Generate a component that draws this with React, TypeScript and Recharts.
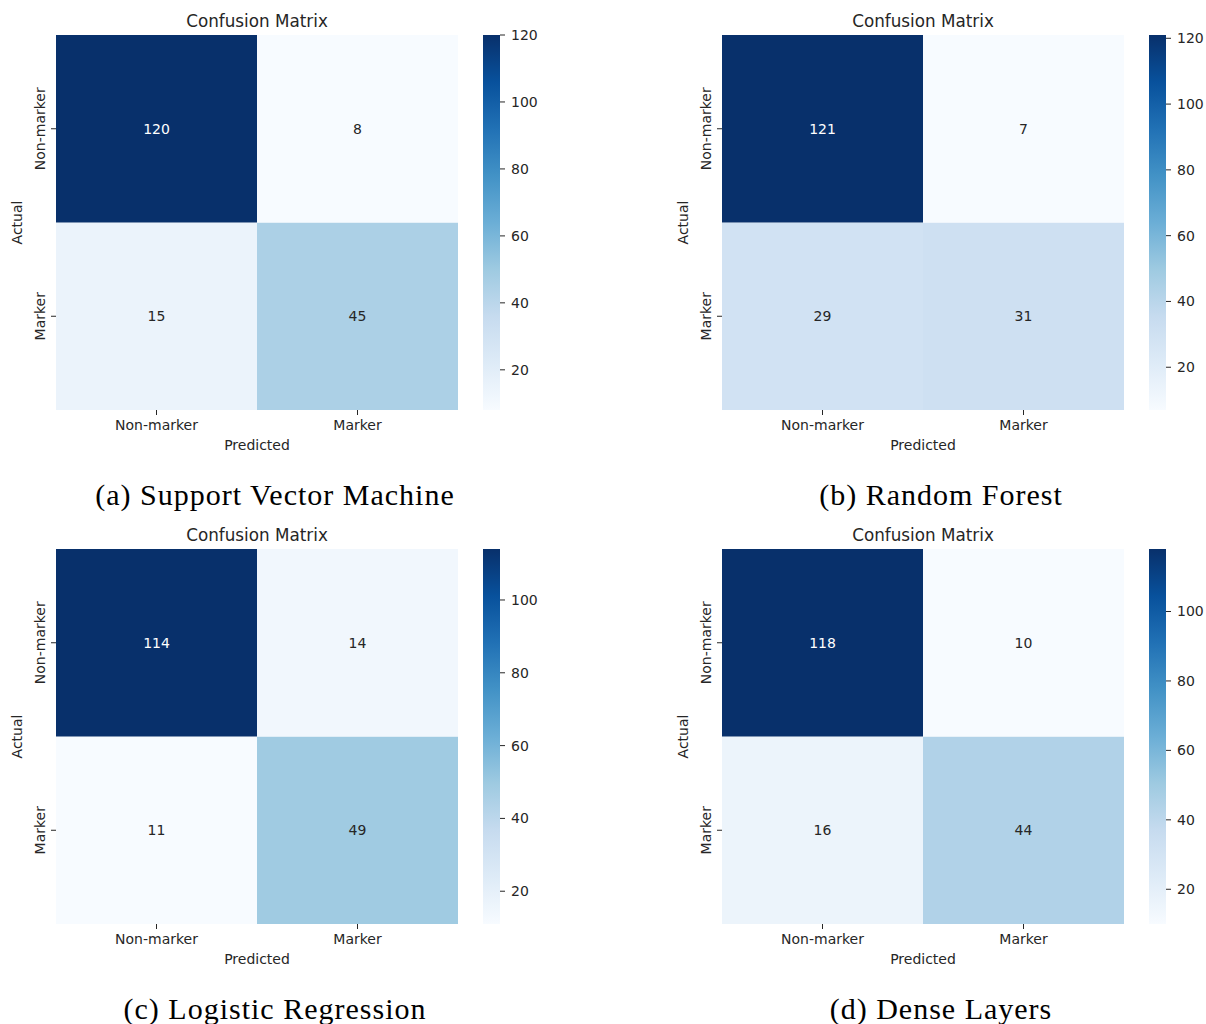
import React from "react";
import { BarChart, Bar, XAxis, YAxis, Cell, LabelList, Label } from "recharts";

const CLASSES = ["Non-marker", "Marker"];

// rows = actual, columns = predicted
const SVM_CM = [[120, 8], [15, 45]];
const RF_CM = [[121, 7], [29, 31]];
const LR_CM = [[114, 14], [11, 49]];
const DENSE_CM = [[118, 10], [16, 44]];

const CAPTIONS = [
  "(a) Support Vector Machine",
  "(b) Random Forest",
  "(c) Logistic Regression",
  "(d) Dense Layers",
];

const COLORBAR_TICKS = [20, 40, 60, 80, 100, 120];

// matplotlib "Blues"
const BLUES = [
  "#f7fbff", "#deebf7", "#c6dbef", "#9ecae1", "#6baed6",
  "#4292c6", "#2171b5", "#08519c", "#08306b",
];

const TEXT = "#262626";
const SANS = "'DejaVu Sans', sans-serif";

function hexToRgb(h: string) {
  const n = parseInt(h.slice(1), 16);
  return [(n >> 16) & 255, (n >> 8) & 255, n & 255];
}

function blues(t: number) {
  const n = BLUES.length - 1;
  const p = Math.max(0, Math.min(1, t)) * n;
  const i = Math.min(Math.floor(p), n - 1);
  const f = p - i;
  const a = hexToRgb(BLUES[i]);
  const b = hexToRgb(BLUES[i + 1]);
  const c = a.map((v, k) => Math.round(v + (b[k] - v) * f));
  return `rgb(${c[0]},${c[1]},${c[2]})`;
}

function luminance(rgb: string) {
  const [r, g, b] = rgb.match(/\d+/g)!.map((v) => {
    const c = Number(v) / 255;
    return c <= 0.03928 ? c / 12.92 : Math.pow((c + 0.055) / 1.055, 2.4);
  });
  return 0.2126 * r + 0.7152 * g + 0.0722 * b;
}

const RowTick = ({ x, y, payload }: any) => {
  const label = CLASSES[CLASSES.length - 1 - Math.floor(payload.value)];
  const tx = x - 4;
  return (
    <text x={tx} y={y} transform={`rotate(-90 ${tx} ${y})`} textAnchor="middle"
      fill={TEXT} fontSize={14} fontFamily={SANS}>
      {label}
    </text>
  );
};

function Panel({ matrix, caption, id, left, top }: {
  matrix: number[][]; caption: string; id: string; left: number; top: number;
}) {
  const flat = matrix.flat();
  const lo = Math.min(...flat);
  const hi = Math.max(...flat);
  const color = (v: number) => blues((v - lo) / (hi - lo));

  const rows = CLASSES.map((pred, j) => ({
    pred,
    upper: 1,
    lower: 1,
    upperCount: matrix[0][j],
    lowerCount: matrix[1][j],
  }));

  const countLabel = (props: any) => {
    const { x, y, width, height, value } = props;
    const fill = luminance(color(value)) > 0.408 ? TEXT : "#ffffff";
    return (
      <text x={x + width / 2} y={y + height / 2} dy="0.35em" textAnchor="middle"
        fontSize={14} fontFamily={SANS} fill={fill}>
        {value}
      </text>
    );
  };

  const cbTicks = COLORBAR_TICKS.filter((t) => t >= lo && t <= hi);

  return (
    <div style={{ position: "absolute", left, top, width: 600, height: 510 }}>
      <div style={{
        position: "absolute", left: 56, top: 11, width: 402, lineHeight: "20px",
        textAlign: "center", fontFamily: SANS, fontSize: 16.8, color: TEXT,
      }}>
        Confusion Matrix
      </div>

      <div style={{ position: "absolute", left: 0, top: 0 }}>
        <BarChart width={470} height={460} data={rows}
          margin={{ top: 35, right: 12, left: 16, bottom: 8 }}
          barCategoryGap={0} barGap={0}>
          <XAxis dataKey="pred" interval={0} axisLine={false} height={42} tickSize={5}
            tickMargin={5}
            tickLine={{ stroke: TEXT }} tick={{ fill: TEXT, fontSize: 14, fontFamily: SANS }}>
            <Label value="Predicted" position="insideBottom" offset={2}
              style={{ fill: TEXT, fontSize: 14, fontFamily: SANS }} />
          </XAxis>
          <YAxis type="number" domain={[0, CLASSES.length]}
            ticks={CLASSES.map((_, i) => i + 0.5)} width={40} axisLine={false}
            tickSize={5} tickLine={{ stroke: TEXT }} tick={<RowTick />}
            label={{
              content: ({ viewBox }: any) => {
                const lx = viewBox.x + 6;
                const ly = viewBox.y + viewBox.height / 2;
                return (
                  <text x={lx} y={ly} transform={`rotate(-90 ${lx} ${ly})`} textAnchor="middle"
                    fill={TEXT} fontSize={14} fontFamily={SANS}>
                    Actual
                  </text>
                );
              },
            }} />
          <Bar dataKey="lower" stackId="cm" isAnimationActive={false}>
            {rows.map((r) => <Cell key={r.pred} fill={color(r.lowerCount)} />)}
            <LabelList dataKey="lowerCount" content={countLabel} />
          </Bar>
          <Bar dataKey="upper" stackId="cm" isAnimationActive={false}>
            {rows.map((r) => <Cell key={r.pred} fill={color(r.upperCount)} />)}
            <LabelList dataKey="upperCount" content={countLabel} />
          </Bar>
        </BarChart>
      </div>

      <div style={{ position: "absolute", left: 483, top: 0 }}>
        <BarChart width={70} height={460} data={[{ k: "cb", range: [lo, hi] }]}
          margin={{ top: 35, right: 0, left: 0, bottom: 50 }} barCategoryGap={0}>
          <defs>
            <linearGradient id={id} x1="0" y1="1" x2="0" y2="0">
              {BLUES.map((c, i) => (
                <stop key={c} offset={`${(i / (BLUES.length - 1)) * 100}%`} stopColor={c} />
              ))}
            </linearGradient>
          </defs>
          <XAxis dataKey="k" hide />
          <YAxis orientation="right" type="number" domain={[lo, hi]} ticks={cbTicks}
            width={53} axisLine={false} tickSize={5} tickMargin={6} tickLine={{ stroke: TEXT }}
            tick={{ fill: TEXT, fontSize: 14, fontFamily: SANS }} />
          <Bar dataKey="range" fill={`url(#${id})`} isAnimationActive={false} />
        </BarChart>
      </div>

      <div style={{
        position: "absolute", left: 0, top: 478, width: 550, lineHeight: "34px",
        textAlign: "center", fontFamily: "'Liberation Serif', serif", fontSize: 30,
        letterSpacing: 1, color: "#000",
      }}>
        {caption}
      </div>
    </div>
  );
}

export default function App() {
  return (
    <div style={{ position: "absolute", left: 0, top: 0, width: 1206, height: 1024, background: "#fff" }}>
      <Panel matrix={SVM_CM} caption={CAPTIONS[0]} id="cb-svm" left={0} top={0} />
      <Panel matrix={RF_CM} caption={CAPTIONS[1]} id="cb-rf" left={666} top={0} />
      <Panel matrix={LR_CM} caption={CAPTIONS[2]} id="cb-lr" left={0} top={514} />
      <Panel matrix={DENSE_CM} caption={CAPTIONS[3]} id="cb-dense" left={666} top={514} />
    </div>
  );
}
